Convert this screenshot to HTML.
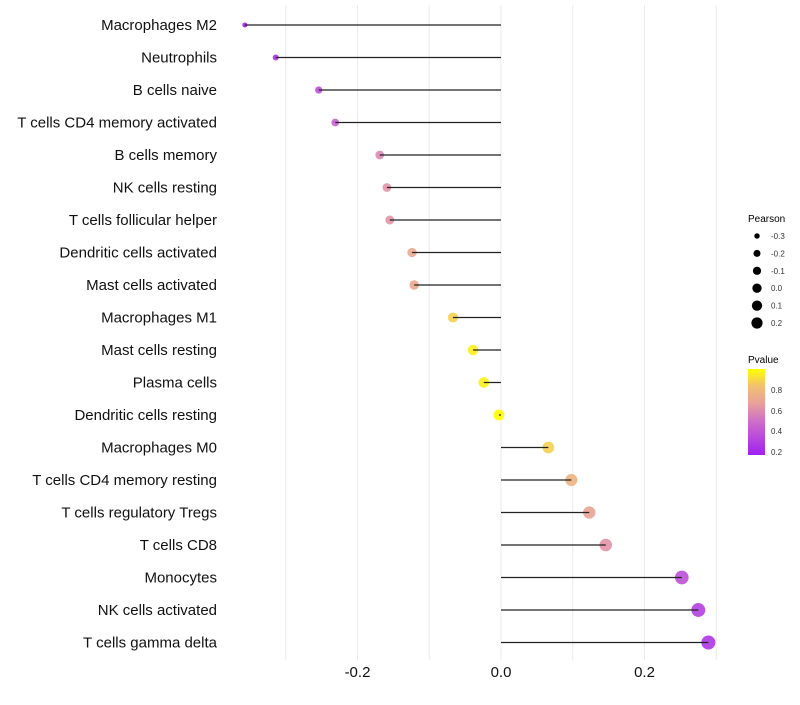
<!DOCTYPE html>
<html><head><meta charset="utf-8"><style>
body{margin:0;background:#fff;font-family:"Liberation Sans",sans-serif}
svg text{font-family:"Liberation Sans",sans-serif}
</style></head><body>
<svg id="chart" width="800" height="700" xmlns="http://www.w3.org/2000/svg">
<defs><linearGradient id="pg" x1="0" y1="1" x2="0" y2="0">
<stop offset="0" stop-color="#A020F0"/><stop offset="0.4" stop-color="#D070C8"/><stop offset="0.6" stop-color="#E8A09A"/><stop offset="0.8" stop-color="#F2C070"/><stop offset="1" stop-color="#FFFF00"/></linearGradient></defs>
<g id="grid"></g>
<g id="marks"></g>
<g id="ylabels"></g>
<g id="xlabels"></g>
<g id="sizeLeg">
<text x="748" y="222" font-size="10">Pearson</text>
</g>
<g>
<text x="748" y="363" font-size="10">Pvalue</text>
<rect x="748" y="369" width="17" height="86" fill="url(#pg)"/>
<g font-size="8" fill="#333">
<text x="771" y="393">0.8</text>
<text x="771" y="414">0.6</text>
<text x="771" y="434">0.4</text>
<text x="771" y="455">0.2</text>
</g></g>
</svg>
<script>
const categories=["Macrophages M2","Neutrophils","B cells naive","T cells CD4 memory activated","B cells memory","NK cells resting","T cells follicular helper","Dendritic cells activated","Mast cells activated","Macrophages M1","Mast cells resting","Plasma cells","Dendritic cells resting","Macrophages M0","T cells CD4 memory resting","T cells regulatory  Tregs ","T cells CD8","Monocytes","NK cells activated","T cells gamma delta"];
const pearson=[-0.357,-0.314,-0.254,-0.231,-0.169,-0.159,-0.155,-0.124,-0.121,-0.067,-0.039,-0.024,-0.003,0.066,0.098,0.123,0.146,0.252,0.275,0.289];
const pvalues=[0.15,0.2,0.3,0.35,0.5,0.55,0.55,0.65,0.65,0.85,0.95,0.95,1.0,0.85,0.72,0.62,0.55,0.3,0.25,0.22];
const xTicks=[-0.2,0.0,0.2];
const sizeLegendValues=[-0.3,-0.2,-0.1,0.0,0.1,0.2];
const NS="http://www.w3.org/2000/svg";
const x=v=>501+v*717.5;
const y=i=>25+i*32.5;
const r=v=>Math.sqrt(Math.max(3.5,30+66*v));
const stops=[[0.15,[160,32,240]],[0.4,[208,112,200]],[0.6,[232,160,154]],[0.8,[242,192,112]],[1.0,[255,255,0]]];
function col(p){p=Math.max(0.15,Math.min(1,p));for(let k=1;k<stops.length;k++){if(p<=stops[k][0]){const a=stops[k-1],b=stops[k],t=(p-a[0])/(b[0]-a[0]);return "rgb("+a[1].map((c,j)=>Math.round(c+(b[1][j]-c)*t)).join(",")+")";}}return "rgb(255,255,0)";}
function mk(t,a,parent){const e=document.createElementNS(NS,t);for(const k in a)e.setAttribute(k,a[k]);parent.appendChild(e);return e;}
const grid=document.getElementById('grid'),marks=document.getElementById('marks'),yl=document.getElementById('ylabels'),xl=document.getElementById('xlabels'),sl=document.getElementById('sizeLeg');
for(let g=-0.3;g<=0.31;g+=0.1){const l=mk('line',{x1:x(g),x2:x(g),y1:5,y2:660,stroke:'#ebebeb','stroke-width':1},grid);

}
categories.forEach((c,i)=>{
const v=pearson[i];
const ci=mk('circle',{cx:x(v),cy:y(i),r:r(v),fill:col(pvalues[i]),'fill-opacity':0.9},marks);


const ln=mk('line',{x1:x(0),x2:x(v),y1:y(i),y2:y(i),stroke:'#222','stroke-width':1.2},marks);


const t=mk('text',{x:217,y:y(i)+5,'text-anchor':'end','font-size':15,fill:'#111','xml:space':'preserve'},yl);t.textContent=c;


});
xTicks.forEach(v=>{const t=mk('text',{x:x(v),y:677,'text-anchor':'middle','font-size':15,fill:'#111'},xl);t.textContent=v.toFixed(1);

});
sizeLegendValues.forEach((v,k)=>{const cy=236+k*17.4;
const c=mk('circle',{cx:757,cy:cy,r:r(v)*0.85,fill:'#000'},sl);


const t=mk('text',{x:771,y:cy+3,'font-size':8,fill:'#333'},sl);t.textContent=v.toFixed(1);

});
</script>
</body></html>
